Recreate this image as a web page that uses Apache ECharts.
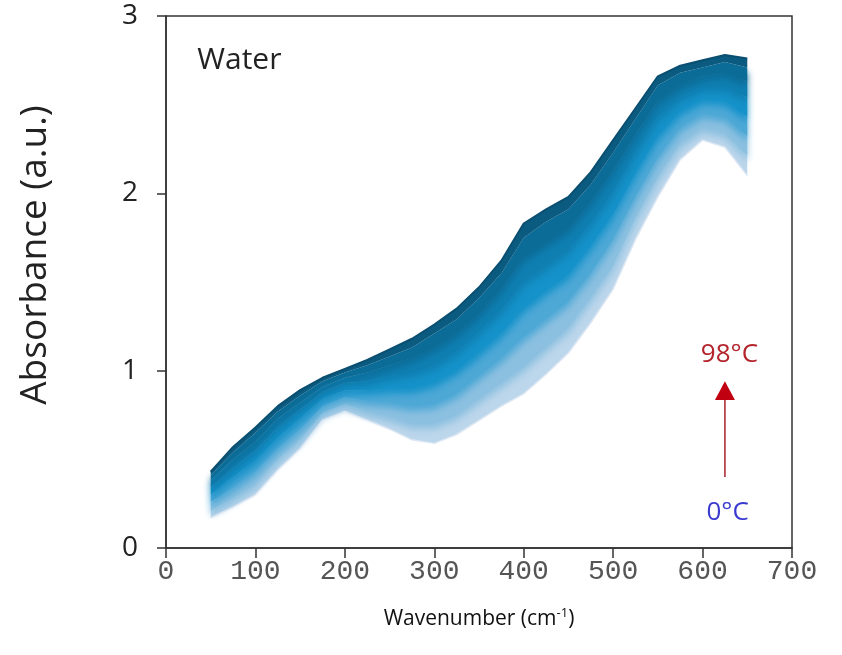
<!DOCTYPE html>
<html>
<head>
<meta charset="utf-8">
<title>Water absorbance</title>
<script src="https://cdn.jsdelivr.net/npm/echarts@6.0.0/dist/echarts.min.js"></script>
<style>
  html, body { margin: 0; padding: 0; background: #fff; }
  #chart { width: 842px; height: 655px; }
</style>
</head>
<body>
<div id="chart"></div>
<script>
// wavenumber grid (cm-1)
const wavenumbers = [50, 75, 100, 125, 150, 175, 200, 225, 250, 275, 300, 325, 350,
  375, 400, 425, 450, 475, 500, 525, 550, 575, 600, 625, 650]

// absorbance, one curve per temperature
const abs98 = [0.43, 0.57, 0.68, 0.80, 0.89, 0.96, 1.01, 1.06, 1.12, 1.18, 1.26, 1.35, 1.47,
  1.62, 1.83, 1.91, 1.98, 2.12, 2.30, 2.48, 2.66, 2.72, 2.75, 2.78, 2.76]
const abs84 = [0.41, 0.54, 0.65, 0.77, 0.86, 0.94, 0.99, 1.03, 1.08, 1.13, 1.21, 1.29, 1.41,
  1.55, 1.75, 1.84, 1.91, 2.05, 2.23, 2.42, 2.61, 2.68, 2.71, 2.74, 2.71]
const abs70 = [0.38, 0.50, 0.60, 0.73, 0.82, 0.91, 0.96, 0.99, 1.03, 1.07, 1.13, 1.21, 1.32,
  1.46, 1.64, 1.72, 1.80, 1.95, 2.13, 2.33, 2.52, 2.61, 2.66, 2.68, 2.63]
const abs56 = [0.34, 0.45, 0.55, 0.68, 0.78, 0.88, 0.93, 0.94, 0.97, 0.99, 1.03, 1.11, 1.22,
  1.34, 1.50, 1.59, 1.68, 1.83, 2.01, 2.23, 2.43, 2.54, 2.60, 2.60, 2.54]
const abs42 = [0.30, 0.40, 0.49, 0.62, 0.73, 0.84, 0.89, 0.89, 0.90, 0.90, 0.93, 1.00, 1.10,
  1.21, 1.35, 1.45, 1.54, 1.70, 1.88, 2.11, 2.32, 2.46, 2.53, 2.52, 2.43]
const abs28 = [0.26, 0.34, 0.43, 0.56, 0.67, 0.80, 0.85, 0.83, 0.82, 0.80, 0.81, 0.87, 0.97,
  1.07, 1.19, 1.29, 1.39, 1.55, 1.74, 1.98, 2.20, 2.37, 2.45, 2.43, 2.32]
const abs14 = [0.21, 0.28, 0.36, 0.50, 0.61, 0.76, 0.81, 0.77, 0.74, 0.70, 0.70, 0.75, 0.84,
  0.93, 1.02, 1.13, 1.24, 1.41, 1.59, 1.86, 2.09, 2.28, 2.37, 2.34, 2.21]
const abs0 = [0.17, 0.23, 0.30, 0.44, 0.56, 0.72, 0.77, 0.72, 0.67, 0.61, 0.59, 0.64, 0.72,
  0.80, 0.87, 0.98, 1.10, 1.27, 1.46, 1.74, 1.98, 2.19, 2.30, 2.26, 2.10]

const temps = ['98', '84', '70', '56', '42', '28', '14', '0']
const curves = [abs98, abs84, abs70, abs56, abs42, abs28, abs14, abs0]
const colors = ['#0b5a80', '#0c6c98', '#0f7fb2', '#1592c9', '#4ea8d6', '#8cc0e0', '#bcd6eb', '#dce7f3']

const xTicks = [0, 100, 200, 300, 400, 500, 600, 700]
const yTicks = [0, 1, 2, 3]

const chart = echarts.init(document.getElementById('chart'))

//band k is the gap between curve k and the next colder curve; coldest bands drawn first
const bandOrder = [6, 5, 4, 3, 2, 1, 0]

function renderBand(params, api) {
  const k = bandOrder[params.dataIndex]
  const upper = curves[k], lower = curves[k + 1]
  const pts = []
  wavenumbers.forEach((x, j) => pts.push(api.coord([x, upper[j]])))
  for (let j = wavenumbers.length - 1; j >= 0; j--) pts.push(api.coord([wavenumbers[j], lower[j]]))
  //soften the step into the band below (not for the outer bands)
  const soft = (k === 0 || k === 6) ? {} : { shadowBlur: 7, shadowColor: colors[k], shadowOffsetY: 5 }
  return {
    type: 'polygon',
    shape: { points: pts },
    style: Object.assign({ fill: colors[k] }, soft)
  }
}

const series = [
  {
    name: 'bands',
    type: 'custom',
    renderItem: renderBand,
    data: bandOrder.map(k => [k]),
    encode: { x: 0 },
    silent: true,
    z: 2
  },
  {
    name: temps[7] + '°C',
    type: 'line',
    data: wavenumbers.map((x, j) => [x, abs0[j]]),
    showSymbol: false,
    z: 3,
    lineStyle: { color: colors[7], width: 1.5 }
  },
  {
    name: temps[0] + '°C',
    type: 'line',
    data: wavenumbers.map((x, j) => [x, abs98[j]]),
    showSymbol: false,
    z: 4,
    lineStyle: { color: '#0a4e70', width: 2 }
  }
]

chart.setOption({
  animation: false,
  grid: {
    left: 166, right: 50, top: 16, bottom: 107,
    show: true, borderColor: '#333', borderWidth: 1.5
  },
  xAxis: {
    type: 'value',
    min: xTicks[0], max: xTicks[xTicks.length - 1], interval: 100,
    z: 20,
    splitLine: { show: false },
    axisLine: { lineStyle: { color: '#333', width: 1.5 } },
    axisTick: { length: 10, lineStyle: { color: '#333', width: 1.5 } },
    axisLabel: { fontFamily: 'Liberation Mono', fontSize: 28, color: '#555', margin: 10 },
    name: 'Wavenumber (cm{sup|-1})',
    nameLocation: 'middle',
    nameGap: 59,
    nameTextStyle: {
      fontFamily: 'Open Sans', fontSize: 21, color: '#111',
      rich: { sup: { fontFamily: 'Open Sans', fontSize: 13, color: '#111', padding: [0, 0, 12, 0] } }
    }
  },
  yAxis: {
    type: 'value',
    min: yTicks[0], max: yTicks[yTicks.length - 1], interval: 1,
    z: 20,
    splitLine: { show: false },
    axisLine: { lineStyle: { color: '#333', width: 1.5 } },
    axisTick: { length: 9, lineStyle: { color: '#333', width: 1.5 } },
    axisLabel: { fontFamily: 'Open Sans', fontSize: 28, color: '#222', margin: 28 },
    name: 'Absorbance (a.u.)',
    nameLocation: 'middle',
    nameGap: 112,
    nameTextStyle: { fontFamily: 'Open Sans', fontSize: 37, color: '#222', padding: [0, 0, 0, 54] }
  },
  series: series
})

//annotations anchored in data space
const p = (x, y) => chart.convertToPixel({ gridIndex: 0 }, [x, y])
const water = p(35, 2.75)
const arrowTop = p(625, 0.94)
const arrowMid = p(625, 0.835)
const arrowBot = p(625, 0.40)
const hot = p(630, 1.09)
const cold = p(628, 0.20)
chart.setOption({
  graphic: [
    { type: 'text', z: 100, x: water[0], y: water[1], style: { text: 'Water', fontFamily: 'Open Sans', fontSize: 30, fill: '#222', textVerticalAlign: 'middle' } },
    { type: 'line', z: 100, shape: { x1: arrowMid[0], y1: arrowMid[1], x2: arrowBot[0], y2: arrowBot[1] }, style: { stroke: '#a8202a', lineWidth: 1.5 } },
    { type: 'polygon', z: 100, shape: { points: [[arrowTop[0], arrowTop[1]], [arrowMid[0] - 10, arrowMid[1]], [arrowMid[0] + 10, arrowMid[1]]] }, style: { fill: '#c00010' } },
    { type: 'text', z: 100, x: hot[0], y: hot[1], style: { text: '98°C', fontFamily: 'Open Sans', fontSize: 26, fill: '#b3242c', textAlign: 'center', textVerticalAlign: 'middle' } },
    { type: 'text', z: 100, x: cold[0], y: cold[1], style: { text: '0°C', fontFamily: 'Open Sans', fontSize: 26, fill: '#3a3ad0', textAlign: 'center', textVerticalAlign: 'middle' } }
  ]
})
</script>
</body>
</html>
